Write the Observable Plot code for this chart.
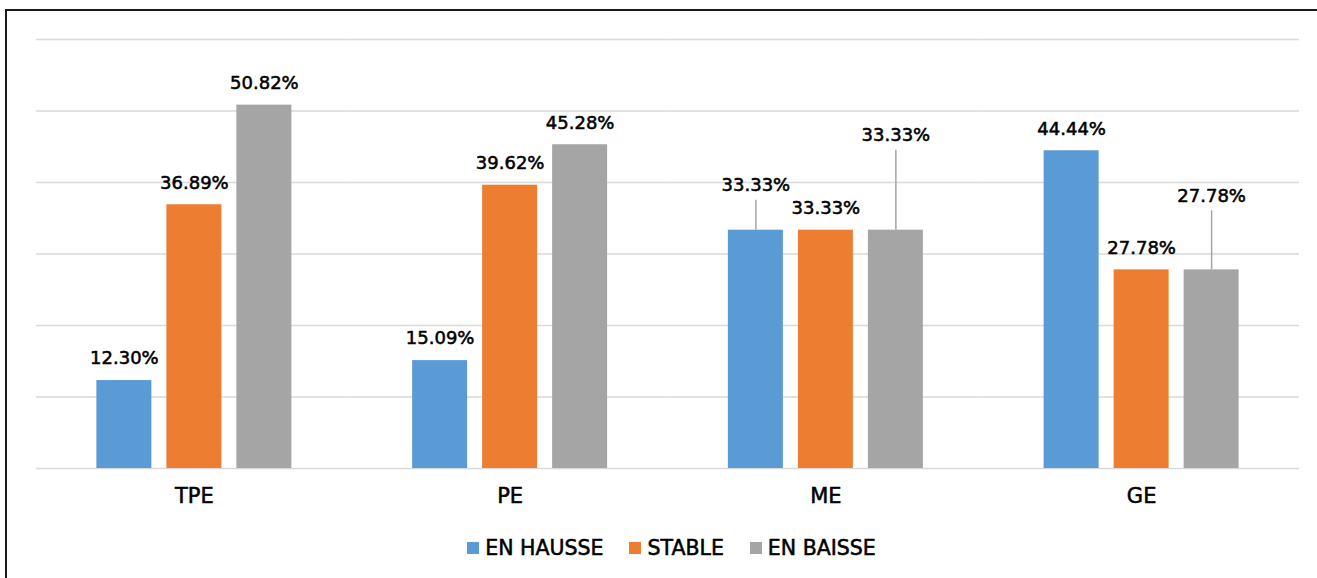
<!DOCTYPE html>
<html>
<head>
<meta charset="utf-8">
<script src="https://cdn.jsdelivr.net/npm/d3@7"></script>
<script src="https://cdn.jsdelivr.net/npm/@observablehq/plot@0.6"></script>
<style>
  html, body { margin: 0; padding: 0; background: #fff; overflow: hidden; }
  #wrap { position: relative; width: 1317px; height: 578px; }
  #frame { position: absolute; left: 5px; top: 9px; width: 1330px; height: 600px;
           border-left: 2px solid #1a1a1a; border-top: 2px solid #1a1a1a; pointer-events: none; }
  #chart { position: absolute; left: 0; top: 0; }
  #chart g[aria-label^="fx-axis"] text { stroke: #000; stroke-width: 0.55px; paint-order: stroke; }
  #legend { position: absolute; left: 0; top: 537px; width: 1317px; display: flex; justify-content: center;
            padding-left: 26px; box-sizing: border-box;
            font-family: "DejaVu Sans", sans-serif; font-size: 20.5px; color: #000; line-height: 22px;
            -webkit-text-stroke: 0.55px #000; }
  .item { display: flex; align-items: center; margin-right: 26px; }
  .item:last-child { margin-right: 0; }
  .sw { width: 12px; height: 12px; margin-right: 6px; display: inline-block; }
</style>
</head>
<body>
<div id="wrap">
  <div id="chart"></div>
  <div id="frame"></div>
  <div id="legend"></div>
</div>
<script>
// ---- data ----
const categories = ["TPE", "PE", "ME", "GE"];
const series = ["EN HAUSSE", "STABLE", "EN BAISSE"];
const enHausse = [12.30, 15.09, 33.33, 44.44];
const stable   = [36.89, 39.62, 33.33, 27.78];
const enBaisse = [50.82, 45.28, 33.33, 27.78];
const yTicks = [0, 10, 20, 30, 40, 50, 60];

// ---- styling / layout (not data) ----
const colors = ["#5B9BD5", "#ED7D31", "#A5A5A5"];
// extra label lift in pixels for labels with leader lines (category|series)
const labelLift = { "ME|EN HAUSSE": 23, "ME|EN BAISSE": 73, "GE|EN BAISSE": 52 };

const W = 1317, H = 520, MT = 39, MB = 52, ML = 36, MR = 18;
const pxPerUnit = (H - MT - MB) / 60;

const seriesValues = [enHausse, stable, enBaisse];
const rows = [];
categories.forEach((c, i) => {
  series.forEach((s, j) => {
    rows.push({ cat: c, series: s, value: seriesValues[j][i] });
  });
});
const labelOffset = d => 22 + (labelLift[d.cat + "|" + d.series] || 0);
const leaders = rows.filter(d => labelLift[d.cat + "|" + d.series]);

const chart = Plot.plot({
  width: W, height: H,
  marginTop: MT, marginBottom: MB, marginLeft: ML, marginRight: MR,
  style: { fontFamily: "DejaVu Sans, sans-serif", fontSize: "21px", color: "#000", background: "transparent" },
  fx: { domain: categories, padding: 0, round: false, label: null, axis: "bottom", tickSize: 0, tickPadding: 20 },
  x: { domain: series, axis: null, round: false, paddingInner: 15 / 70, paddingOuter: 0.8625 },
  y: { domain: [0, 60], axis: null },
  color: { domain: series, range: colors },
  marks: [
    Plot.ruleY(yTicks, { stroke: "#d9d9d9", strokeWidth: 1.5 }),
    Plot.barY(rows, { fx: "cat", x: "series", y: "value", fill: "series" }),
    Plot.ruleX(leaders, {
      fx: "cat", x: "series",
      y1: "value",
      y2: d => d.value + (labelOffset(d) - 15) / pxPerUnit,
      stroke: "#A5A5A5", strokeWidth: 1.5
    }),
    Plot.text(rows, {
      fx: "cat", x: "series",
      y: d => d.value + labelOffset(d) / pxPerUnit,
      text: d => d.value.toFixed(2) + "%",
      fontSize: 18, fill: "#000", stroke: "#000", strokeWidth: 0.55,
      textAnchor: "middle", lineAnchor: "middle"
    })
  ]
});
document.getElementById("chart").appendChild(chart);

const legend = document.getElementById("legend");
series.forEach((s, i) => {
  const it = document.createElement("div");
  it.className = "item";
  const sw = document.createElement("span");
  sw.className = "sw";
  sw.style.background = colors[i];
  const t = document.createElement("span");
  t.textContent = s;
  it.appendChild(sw);
  it.appendChild(t);
  legend.appendChild(it);
});
</script>
</body>
</html>
